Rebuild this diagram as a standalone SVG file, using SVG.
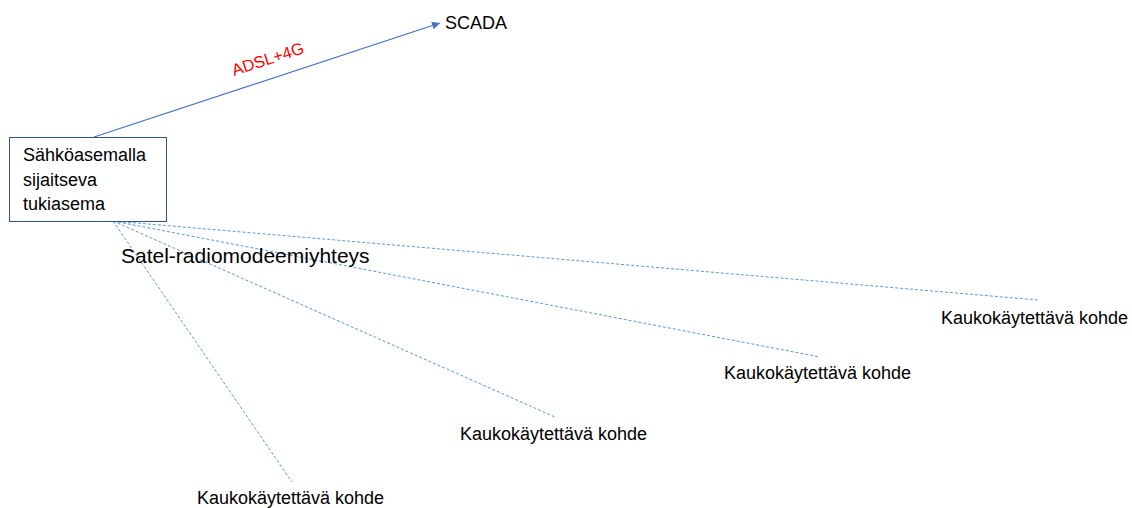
<svg xmlns="http://www.w3.org/2000/svg" width="1132" height="508" viewBox="0 0 1132 508">
<style>
text { font-family: "Liberation Sans", Arial, sans-serif; fill: #000; }
.lbl { font-size: 18px; }
.dash { stroke: #5B9BD5; stroke-width: 1; stroke-dasharray: 3 2; fill: none; }
.solid { stroke: #4472C4; stroke-width: 1.2; fill: none; }
</style>
<defs>
<marker id="arr" viewBox="0 0 10 10" refX="10" refY="5" markerWidth="8" markerHeight="8" markerUnits="userSpaceOnUse" orient="auto">
<path d="M0,0 L10,5 L0,10 Z" fill="#4472C4"/>
</marker>
</defs>
<rect width="1132" height="508" fill="#fff"/>
<g id="connectors">
<line class="solid" x1="94" y1="137" x2="440" y2="23" marker-end="url(#arr)"/>
<text x="234" y="76" transform="rotate(-18 234 76)" style="font-size:16.5px;fill:#FF0000">ADSL+4G</text>
<line class="dash" x1="113" y1="221" x2="1038" y2="300"/>
<line class="dash" x1="113" y1="221" x2="820" y2="357"/>
<line class="dash" x1="113" y1="221" x2="555" y2="417"/>
<line class="dash" x1="113" y1="221" x2="292" y2="482"/>
<text x="121" y="263" style="font-size:21px">Satel-radiomodeemiyhteys</text>
</g>
<g id="tukiasema">
<rect x="9.5" y="137.5" width="157" height="84" fill="#fff" stroke="#2F528F" stroke-width="1"/>
<text class="lbl" x="23" y="161">Sähköasemalla</text>
<text class="lbl" x="23" y="186">sijaitseva</text>
<text class="lbl" x="23" y="210">tukiasema</text>
</g>
<g id="scada">
<text class="lbl" x="445" y="29">SCADA</text>
</g>
<g id="kohde1">
<text class="lbl" x="941" y="324">Kaukokäytettävä kohde</text>
</g>
<g id="kohde2">
<text class="lbl" x="724" y="379">Kaukokäytettävä kohde</text>
</g>
<g id="kohde3">
<text class="lbl" x="460" y="440">Kaukokäytettävä kohde</text>
</g>
<g id="kohde4">
<text class="lbl" x="197" y="504">Kaukokäytettävä kohde</text>
</g>
</svg>
